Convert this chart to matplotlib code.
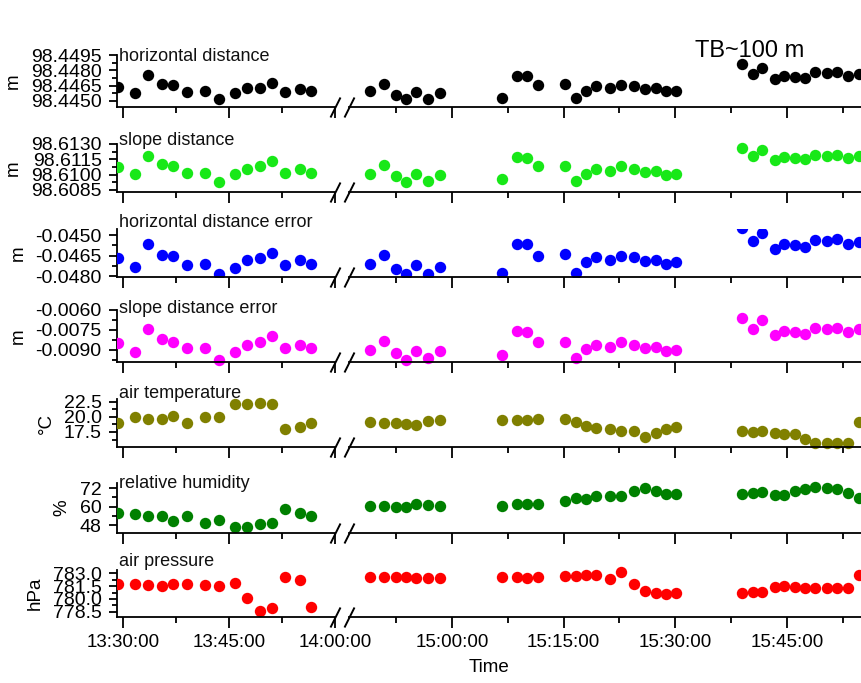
import numpy as np
import matplotlib
matplotlib.use('Agg')
import matplotlib.pyplot as plt
from matplotlib.path import Path
from matplotlib.ticker import FixedLocator, MultipleLocator, FormatStrFormatter
import matplotlib.transforms as mtrans

plt.rcParams['font.family'] = ['Liberation Sans', 'DejaVu Sans']

# ---------------- data ----------------
times = ["13:29:20", "13:31:42", "13:33:30", "13:35:34", "13:37:02", "13:39:06", "13:41:39", "13:43:38",
         "13:45:53", "13:47:30", "13:49:20", "13:51:02", "13:52:58", "13:55:03", "13:56:39",
         "14:48:59", "14:50:52", "14:52:28", "14:53:49", "14:55:10", "14:56:46", "14:58:23",
         "15:06:41", "15:08:47", "15:10:07", "15:11:36",
         "15:15:14", "15:16:38", "15:18:01", "15:19:21", "15:21:14", "15:22:40", "15:24:30", "15:25:54",
         "15:27:25", "15:28:48", "15:30:04",
         "15:39:01", "15:40:30", "15:41:43", "15:43:25", "15:44:40", "15:46:06", "15:47:29", "15:48:50",
         "15:50:26", "15:51:47", "15:53:16", "15:54:42"]

horizontal_distance = [98.4464, 98.4458, 98.4475, 98.4467, 98.4466, 98.4459, 98.4460, 98.4452, 98.4458, 98.4463,
                       98.4463, 98.4468, 98.4459, 98.4462, 98.4460,
                       98.4460, 98.4467, 98.4456, 98.4452, 98.4459, 98.4452, 98.4458,
                       98.4453, 98.4474, 98.4474, 98.4466,
                       98.4467, 98.4453, 98.4460, 98.4465, 98.4463, 98.4466, 98.4465, 98.4462, 98.4463, 98.4460, 98.4460,
                       98.4486, 98.4476, 98.4482, 98.4471, 98.4474, 98.4473, 98.4472, 98.4478, 98.4477, 98.4478,
                       98.4474, 98.4476]

slope_distance = [98.6107, 98.6101, 98.6118, 98.6110, 98.6108, 98.6102, 98.6102, 98.6093, 98.6101, 98.6106,
                  98.6108, 98.6113, 98.6102, 98.6106, 98.6102,
                  98.6101, 98.6109, 98.6099, 98.6093, 98.6101, 98.6094, 98.6100,
                  98.6096, 98.6117, 98.6116, 98.6108,
                  98.6108, 98.6094, 98.6101, 98.6106, 98.6104, 98.6108, 98.6106, 98.6103, 98.6104, 98.6100, 98.6101,
                  98.6126, 98.6118, 98.6124, 98.6114, 98.6117, 98.6116, 98.6115, 98.6119, 98.6118, 98.6119,
                  98.6116, 98.6118]

horizontal_distance_error = [-0.04671, -0.04732, -0.04566, -0.04646, -0.04654, -0.04722, -0.04712, -0.04785,
                             -0.04739, -0.04683, -0.04671, -0.04630, -0.04722, -0.04683, -0.04710,
                             -0.04712, -0.04646, -0.04749, -0.04785, -0.04722, -0.04783, -0.04732,
                             -0.04776, -0.04566, -0.04566, -0.04654,
                             -0.04641, -0.04776, -0.04700, -0.04663, -0.04683, -0.04654, -0.04663, -0.04690,
                             -0.04683, -0.04712, -0.04700,
                             -0.04452, -0.04546, -0.04488, -0.04605, -0.04566, -0.04573, -0.04586, -0.04537,
                             -0.04544, -0.04527, -0.04564, -0.04553]

slope_distance_error = [-0.00850, -0.00913, -0.00745, -0.00820, -0.00842, -0.00887, -0.00887, -0.00975,
                        -0.00913, -0.00860, -0.00842, -0.00793, -0.00887, -0.00860, -0.00887,
                        -0.00900, -0.00833, -0.00925, -0.00973, -0.00908, -0.00960, -0.00908,
                        -0.00940, -0.00758, -0.00765, -0.00842,
                        -0.00842, -0.00958, -0.00895, -0.00863, -0.00878, -0.00842, -0.00863, -0.00885,
                        -0.00875, -0.00908, -0.00898,
                        -0.00660, -0.00745, -0.00675, -0.00785, -0.00758, -0.00765, -0.00778, -0.00738,
                        -0.00743, -0.00735, -0.00765, -0.00745]

air_temperature = [18.9, 20.0, 19.7, 19.6, 20.2, 18.9, 20.0, 20.0, 22.05, 22.05, 22.3, 22.05, 18.0, 18.35, 18.9,
                   19.1, 19.05, 18.9, 18.8, 18.7, 19.3, 19.45,
                   19.45, 19.45, 19.55, 19.6,
                   19.6, 19.2, 18.55, 18.1, 18.0, 17.6, 17.7, 16.75, 17.3, 18.0, 18.25,
                   17.7, 17.45, 17.6, 17.4, 17.2, 17.1, 16.35, 15.7, 15.7, 15.75, 15.7, 19.1]

relative_humidity = [56.1, 55.1, 54.0, 54.2, 50.5, 54.2, 49.4, 51.4, 46.8, 46.8, 48.8, 49.6, 58.5, 56.1, 54.0,
                     60.45, 60.45, 59.6, 59.6, 61.5, 61.3, 60.45,
                     60.45, 61.5, 61.5, 61.5,
                     63.9, 65.8, 65.0, 66.7, 66.9, 66.9, 70.2, 71.9, 70.4, 68.4, 68.2,
                     68.2, 69.1, 69.3, 67.4, 67.4, 70.2, 71.5, 72.8, 72.1, 71.3, 69.1, 65.8]

air_pressure = [781.70, 781.73, 781.60, 781.50, 781.73, 781.73, 781.65, 781.50, 781.90, 780.15, 778.60, 778.96,
                782.57, 782.20, 779.10,
                782.57, 782.57, 782.57, 782.57, 782.46, 782.46, 782.46,
                782.57, 782.57, 782.46, 782.57,
                782.69, 782.69, 782.77, 782.77, 782.35, 783.15, 781.77, 780.92, 780.73, 780.54, 780.73,
                780.73, 780.85, 780.85, 781.42, 781.50, 781.42, 781.23, 781.23, 781.23, 781.23, 781.23, 782.77]

panel_titles = ["horizontal distance", "slope distance", "horizontal distance error", "slope distance error",
                "air temperature", "relative humidity", "air pressure"]
units = ["m", "m", "m", "m", "°C", "%", "hPa"]
ytick_values = [[98.4450, 98.4465, 98.4480, 98.4495],
                [98.6085, 98.6100, 98.6115, 98.6130],
                [-0.0480, -0.0465, -0.0450],
                [-0.0090, -0.0075, -0.0060],
                [17.5, 20.0, 22.5],
                [48, 60, 72],
                [778.5, 780.0, 781.5, 783.0]]
xtick_labels = ["13:30:00", "13:45:00", "14:00:00", "15:00:00", "15:15:00", "15:30:00", "15:45:00"]
xminor_labels = ["13:37:30", "13:52:30", "14:52:30", "15:07:30", "15:22:30", "15:37:30", "15:52:30"]


def to_min(s):
    h, m, sec = map(int, s.split(':'))
    return h * 60 + m + sec / 60.0 - (13 * 60 + 30)


x = np.array([to_min(s) for s in times])
series = [horizontal_distance, slope_distance, horizontal_distance_error, slope_distance_error,
          air_temperature, relative_humidity, air_pressure]

# ---------------- style / layout ----------------
colors = ['black', '#18e818', '#0000ff', '#ff00ff', '#808000', '#008000', '#ff0000']
ylims = [(98.4444, 98.4495), (98.6083, 98.6130), (-0.04807, -0.04456), (-0.0099, -0.0060),
         (15.03, 22.93), (42.9, 75.4), (777.92, 783.35)]
yminor = [0.00075, 0.00075, 0.00075, 0.00075, 1.25, 6, 0.75]
yfmt = ['%.4f', '%.4f', '%.4f', '%.4f', '%.1f', '%.0f', '%.1f']
tops_px = [55, 144, 229, 310, 399, 483, 570]
bots_px = [107, 192, 277, 362, 447, 533, 617]
title_base_px = [-6, -1, 2, -3, 1, -5, 4]
clip_vertical = [False, False, True, False, False, False, False]

W, H = 862, 683
A = 30.0      # 14:00 (break start)
B = 76.16     # break end
GAP = 1.98
RATIO = 1.0528
BIG = 1e4
fx = [-BIG, A, B, BIG]
ff = [-BIG, A, A + GAP, A + GAP + (BIG - B) * RATIO]


def fwd(t):
    return np.interp(t, fx, ff)


def inv(f):
    return np.interp(f, ff, fx)


XMIN, XMAX = -0.85, 145.1
left = 117 / W

fig = plt.figure(figsize=(W / 100, H / 100), dpi=100)
slash = Path([(-0.25, -0.5), (0.25, 0.5)], [Path.MOVETO, Path.LINETO])

major_x = [to_min(s) for s in xtick_labels]
minor_x = [to_min(s) for s in xminor_labels]

axes = []
for i in range(7):
    bottom = 1 - bots_px[i] / H
    height = (bots_px[i] - tops_px[i]) / H
    ax = fig.add_axes([left, bottom, 1 - left, height])
    line, = ax.plot(x, series[i], 'o', ms=8.2, color=colors[i], mec='none', zorder=3)
    if not clip_vertical[i]:
        cb = mtrans.TransformedBbox(mtrans.Bbox([[0, -0.3], [1, 1.3]]), ax.transAxes)
        line.set_clip_box(cb)
    ax.set_xscale('function', functions=(fwd, inv))
    ax.set_xlim(XMIN, XMAX)
    ax.set_ylim(*ylims[i])

    ax.xaxis.set_major_locator(FixedLocator(major_x))
    ax.xaxis.set_minor_locator(FixedLocator(minor_x))
    ax.set_xticklabels(xtick_labels)
    ax.tick_params(axis='x', which='major', direction='out', length=8, width=1.3, labelsize=13.5, pad=4)
    ax.tick_params(axis='x', which='minor', direction='out', length=4.5, width=1.3)
    if i < 6:
        ax.tick_params(axis='x', labelbottom=False)

    ax.yaxis.set_major_locator(FixedLocator(ytick_values[i]))
    ax.yaxis.set_minor_locator(MultipleLocator(yminor[i]))
    ax.yaxis.set_major_formatter(FormatStrFormatter(yfmt[i]))
    ax.tick_params(axis='y', which='major', direction='out', length=6, width=1.3, labelsize=14, pad=5)
    ax.tick_params(axis='y', which='minor', direction='out', length=3.5, width=1.3)

    for s in ['top', 'right', 'bottom']:
        ax.spines[s].set_visible(False)
    ax.spines['left'].set_linewidth(1.3)

    trans = mtrans.blended_transform_factory(ax.transData, ax.transAxes)
    ax.plot([XMIN, A], [0, 0], transform=trans, color='k', lw=1.3, clip_on=False, zorder=4)
    ax.plot([B, XMAX], [0, 0], transform=trans, color='k', lw=1.3, clip_on=False, zorder=4)
    ax.plot([A, B], [0, 0], transform=trans, ls='none', marker=slash, ms=14.4, mew=1.4,
            color='k', clip_on=False, zorder=5)

    ax.set_ylabel(units[i], fontsize=13.5, labelpad=6.5)
    ax.annotate(panel_titles[i], xy=(0, 1), xycoords='axes fraction',
                xytext=(1.5, title_base_px[i] * 0.72), textcoords='offset points',
                ha='left', va='baseline', fontsize=13, color='#111111')
    axes.append(ax)

axes[-1].set_xlabel('Time', fontsize=13.5, labelpad=6)
fig.text(750 / W, 1 - 57 / H, 'TB~100 m', fontsize=17, ha='center', va='baseline')

fig.savefig('out.png', dpi=100)
